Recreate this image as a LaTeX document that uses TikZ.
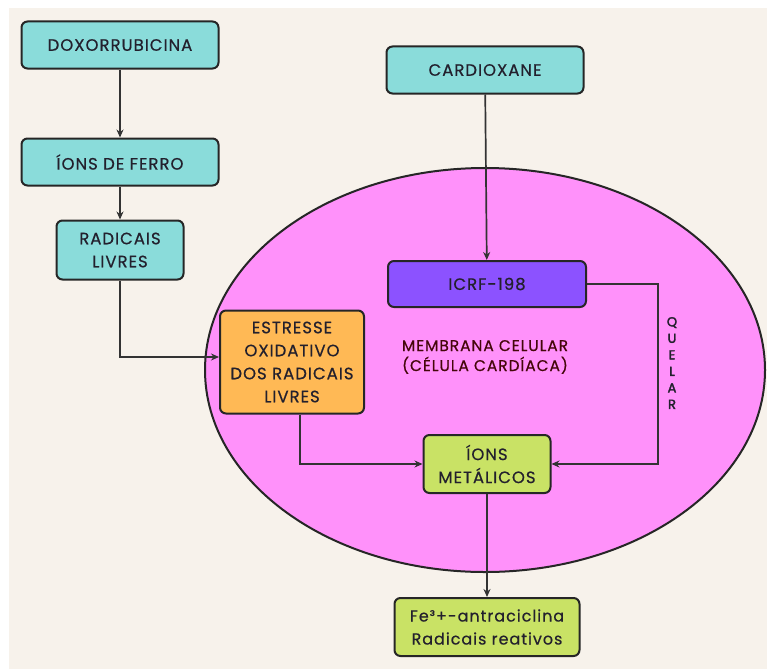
\documentclass[tikz,border=0pt]{standalone}
\usepackage{fontspec}
\setmainfont{Poppins}[LetterSpace=6, FakeBold=0.5]
\newfontfamily\quelarfont{Poppins}[AutoFakeBold=2.5]
\usetikzlibrary{arrows.meta}

\definecolor{creme}{RGB}{247,242,235}
\definecolor{turquesa}{RGB}{138,220,218}
\definecolor{rosa}{RGB}{255,145,250}
\definecolor{roxo}{RGB}{140,82,255}
\definecolor{laranja}{RGB}{255,185,85}
\definecolor{verde}{RGB}{201,226,101}
\definecolor{tinta}{RGB}{35,32,45}

\begin{document}
\begin{tikzpicture}[x=1pt, y=-1pt,
  every node/.style={font=\fontsize{16.5}{23}\selectfont, text=tinta},
  caixa/.style={draw=black!85, line width=2pt, rounded corners=6pt, align=center, inner sep=0pt},
  seta/.style={draw=black!80, line width=1.7pt, -{Stealth[length=8pt,width=7pt]}}
]
% fundo
\useasboundingbox (0,0) rectangle (767,669);
\fill[white] (0,0) rectangle (767,669);
\fill[creme] (9,8) rectangle (767,669);

% membrana
\draw[fill=rosa, line width=2pt, draw=black!85] (485,370) ellipse [x radius=280, y radius=202];
\node[align=center, font=\fontsize{15.5}{20}\selectfont, text=black!70!red!80!tinta] (membrana) at (485,357) {MEMBRANA CELULAR\\(CÉLULA CARDÍACA)};

% caixas
\node[caixa, fill=turquesa, minimum width=197pt, minimum height=47pt] (doxo) at (120,45) {DOXORRUBICINA};
\node[caixa, fill=turquesa, minimum width=197pt, minimum height=47pt] (ferro) at (120,162) {ÍONS DE FERRO};
\node[caixa, fill=turquesa, minimum width=127pt, minimum height=59pt] (radicais) at (120,250) {RADICAIS\\LIVRES};
\node[caixa, fill=turquesa, minimum width=197pt, minimum height=47pt] (cardio) at (485,70) {CARDIOXANE};
\node[caixa, fill=roxo, minimum width=198pt, minimum height=46pt] (icrf) at (487,284) {ICRF-198};
\node[caixa, fill=laranja, minimum width=144pt, minimum height=103pt] (estresse) at (292,362) {ESTRESSE\\OXIDATIVO\\DOS RADICAIS\\LIVRES};
\node[caixa, fill=verde, minimum width=127pt, minimum height=58pt] (metalicos) at (487,464) {ÍONS\\METÁLICOS};
\node[caixa, fill=verde, minimum width=185pt, minimum height=58pt, font=\fontsize{16}{23}\selectfont] (fe) at (487,627) {Fe³+-antraciclina\\Radicais reativos};

% quelar
\node[align=center, font=\quelarfont\fontsize{13}{16.5}\selectfont\bfseries] (quelar) at (672,363) {Q\\U\\E\\L\\A\\R};

% setas
\draw[seta] (doxo) -- (ferro);
\draw[seta] (ferro) -- (radicais);
\draw[seta] (radicais.south) |- ([yshift=5pt]estresse.west);
\draw[seta] (cardio) -- (icrf);
\draw[seta] (icrf.east) -- ++(71,0) |- (metalicos.east);
\draw[seta] ([xshift=8pt]estresse.south) |- (metalicos.west);
\draw[seta] (metalicos) -- (fe);
\end{tikzpicture}
\end{document}
